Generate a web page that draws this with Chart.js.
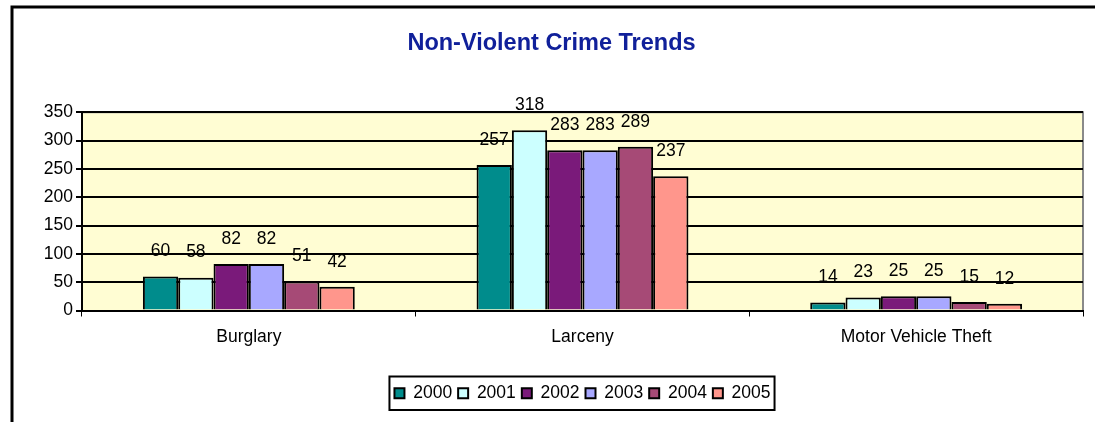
<!DOCTYPE html>
<html>
<head>
<meta charset="utf-8">
<script src="https://cdn.jsdelivr.net/npm/chart.js@4.4.1/dist/chart.umd.min.js"></script>
<style>
  html, body { margin: 0; padding: 0; background: #fff; }
  #wrap { width: 1095px; height: 422px; position: relative; }
</style>
</head>
<body>
<div id="wrap"><canvas id="chart"></canvas></div>
<script>
// Non-Violent Crime Trends — Excel style clustered bars
const CATEGORIES = ['Burglary', 'Larceny', 'Motor Vehicle Theft'];
const YEARS = ['2000', '2001', '2002', '2003', '2004', '2005'];
const Y2000 = [60, 257, 14];
const Y2001 = [58, 318, 23];
const Y2002 = [82, 283, 25];
const Y2003 = [82, 283, 25];
const Y2004 = [51, 289, 15];
const Y2005 = [42, 237, 12];
const Y_TICKS = [0, 50, 100, 150, 200, 250, 300, 350];

const SERIES = [Y2000, Y2001, Y2002, Y2003, Y2004, Y2005];
const COLORS = ['#008C8C', '#CCFFFF', '#7A1A7A', '#A8A8FF', '#A64A76', '#FF968C'];
const FONT = "'Liberation Sans', Arial, sans-serif";
const TXT = 17.5;

Chart.defaults.font.family = FONT;
Chart.defaults.color = '#000';

// plot area fill, outer frame, data labels, legend box
const excelLook = {
  id: 'excelLook',
  beforeDraw(chart) {
    const { ctx, chartArea: a } = chart;
    ctx.save();
    ctx.fillStyle = '#FFFDD3';
    ctx.fillRect(a.left, a.top, a.right - a.left, a.bottom - a.top);
    // gray top/right border
    ctx.strokeStyle = '#8a8a8a';
    ctx.lineWidth = 2;
    ctx.beginPath();
    ctx.moveTo(a.left, a.top);
    ctx.lineTo(a.right, a.top);
    ctx.lineTo(a.right, a.bottom);
    ctx.stroke();
    // outer chart frame (cut by the window on right and bottom)
    ctx.strokeStyle = '#000';
    ctx.lineWidth = 3;
    ctx.strokeRect(12, 7, 1200, 600);
    ctx.restore();
  },
  afterDatasetsDraw(chart) {
    const { ctx } = chart;
    ctx.save();
    ctx.font = TXT + 'px ' + FONT;
    ctx.fillStyle = '#000';
    ctx.textAlign = 'center';
    ctx.textBaseline = 'middle';
    chart.data.datasets.forEach((ds, i) => {
      chart.getDatasetMeta(i).data.forEach((bar, j) => {
        ctx.fillText(String(ds.data[j]), bar.x, bar.y - 25);
      });
    });
    ctx.restore();
  },
  afterDraw(chart) {
    const boxes = chart.legend.legendHitBoxes;
    if (!boxes || !boxes.length) return;
    let l = Infinity, r = -Infinity, t = Infinity, b = -Infinity;
    boxes.forEach(h => {
      l = Math.min(l, h.left); r = Math.max(r, h.left + h.width);
      t = Math.min(t, h.top); b = Math.max(b, h.top + h.height);
    });
    const ctx = chart.ctx;
    ctx.save();
    ctx.strokeStyle = '#000';
    ctx.lineWidth = 2;
    ctx.strokeRect(l - 5, t - 8, r - l + 9, b - t + 16);
    ctx.restore();
  }
};

new Chart(document.getElementById('chart'), {
  type: 'bar',
  data: {
    labels: CATEGORIES,
    datasets: YEARS.map((y, i) => ({
      label: y,
      data: SERIES[i],
      backgroundColor: COLORS[i],
      borderColor: '#000',
      borderWidth: 2,
      barPercentage: 1,
      categoryPercentage: 0.635,
    })),
  },
  options: {
    responsive: true,
    maintainAspectRatio: false,
    animation: false,
    layout: { padding: { left: 20, right: 12, top: 0, bottom: 10 } },
    plugins: {
      title: {
        display: true,
        text: 'Non-Violent Crime Trends',
        color: '#10209A',
        font: { size: 23.5, weight: 'bold', family: FONT },
        padding: { top: 29, bottom: 55 },
      },
      legend: {
        position: 'bottom',
        fullSize: false,
        labels: {
          boxWidth: 10,
          boxHeight: 10,
          padding: 6,
          color: '#000',
          font: { size: TXT, family: FONT },
          generateLabels(chart) {
            return chart.data.datasets.map((ds, i) => ({
              text: ds.label,
              fillStyle: ds.backgroundColor,
              strokeStyle: '#000',
              lineWidth: 2,
              datasetIndex: i,
            }));
          },
        },
      },
      tooltip: { enabled: false },
    },
    scales: {
      x: {
        offset: true,
        grid: {
          offset: true,
          drawOnChartArea: false,
          color: '#000',
          lineWidth: 1,
          tickLength: 6,
        },
        border: { color: '#000', width: 2 },
        ticks: { padding: 10, font: { size: TXT }, color: '#000' },
        afterFit(scale) { scale.height = 68; },
      },
      y: {
        min: 0,
        max: 350,
        afterBuildTicks(scale) { scale.ticks = Y_TICKS.map(v => ({ value: v })); },
        afterFit(scale) { scale.width = 62; },
        grid: { color: '#000', lineWidth: 2, tickLength: 6 },
        border: { color: '#000', width: 2 },
        ticks: { padding: 3, font: { size: TXT }, color: '#000' },
      },
    },
  },
  plugins: [excelLook],
});
</script>
</body>
</html>
